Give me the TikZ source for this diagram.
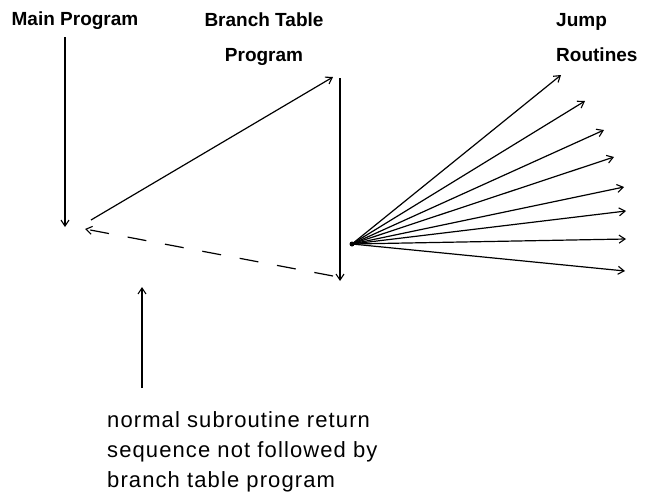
\documentclass[tikz,border=0pt]{standalone}
\usepackage{fontspec}
\setmainfont{Liberation Sans}
\newfontfamily\notefont[LetterSpace=5]{Liberation Sans}
\usetikzlibrary{arrows.meta}
\begin{document}
\begin{tikzpicture}[x=1pt,y=-1pt,
  head/.style={font=\fontsize{19}{35}\selectfont\bfseries, inner sep=0pt},
  note/.style={font=\notefont\fontsize{22}{30}\selectfont, inner sep=0pt, align=left},
  conn/.style={line width=1.2pt, -{Straight Barb[length=6pt,width=8pt,line width=1.1pt]}},
  dashconn/.style={conn, dash pattern=on 19pt off 19pt}]
\useasboundingbox (0,0) rectangle (666,493);
% headers
\node[head] (main) at (75,21) {Main Program};
\node[head, align=center, anchor=north] (branch) at (264,13) {Branch Table\\Program};
\node[head, align=left, anchor=north west] (jump) at (556,13) {Jump\\Routines};
\node[note, anchor=north west] (text) at (107,411) {normal subroutine return\\sequence not followed by\\branch table program};
% coordinates
\coordinate (m1) at (65,37);
\coordinate (m2) at (65,227);
\coordinate (s1) at (91,220);
\coordinate (s2) at (333,77);
\coordinate (b1) at (340,78);
\coordinate (b2) at (340,281);
\coordinate (d1) at (333,276);
\coordinate (d2) at (85,229);
\coordinate (o) at (352,244);
\coordinate (j1) at (561,75);
\coordinate (j2) at (585,101);
\coordinate (j3) at (604,130);
\coordinate (j4) at (614,157);
\coordinate (j5) at (624,187);
\coordinate (j6) at (626,211);
\coordinate (j7) at (626,239);
\coordinate (j8) at (625,271);
\coordinate (u1) at (142,388);
\coordinate (u2) at (142,287);
% connectors
\draw[conn] (m1) -- (m2);
\draw[conn] (s1) -- (s2);
\draw[conn] (b1) -- (b2);
\draw[dashconn] (d1) -- (d2);
\foreach \j in {j1,j2,j3,j4,j5,j6,j7,j8} \draw[conn] (o) -- (\j);
\fill (o) circle (2.5pt);
\draw[conn] (u1) -- (u2);
\end{tikzpicture}
\end{document}
